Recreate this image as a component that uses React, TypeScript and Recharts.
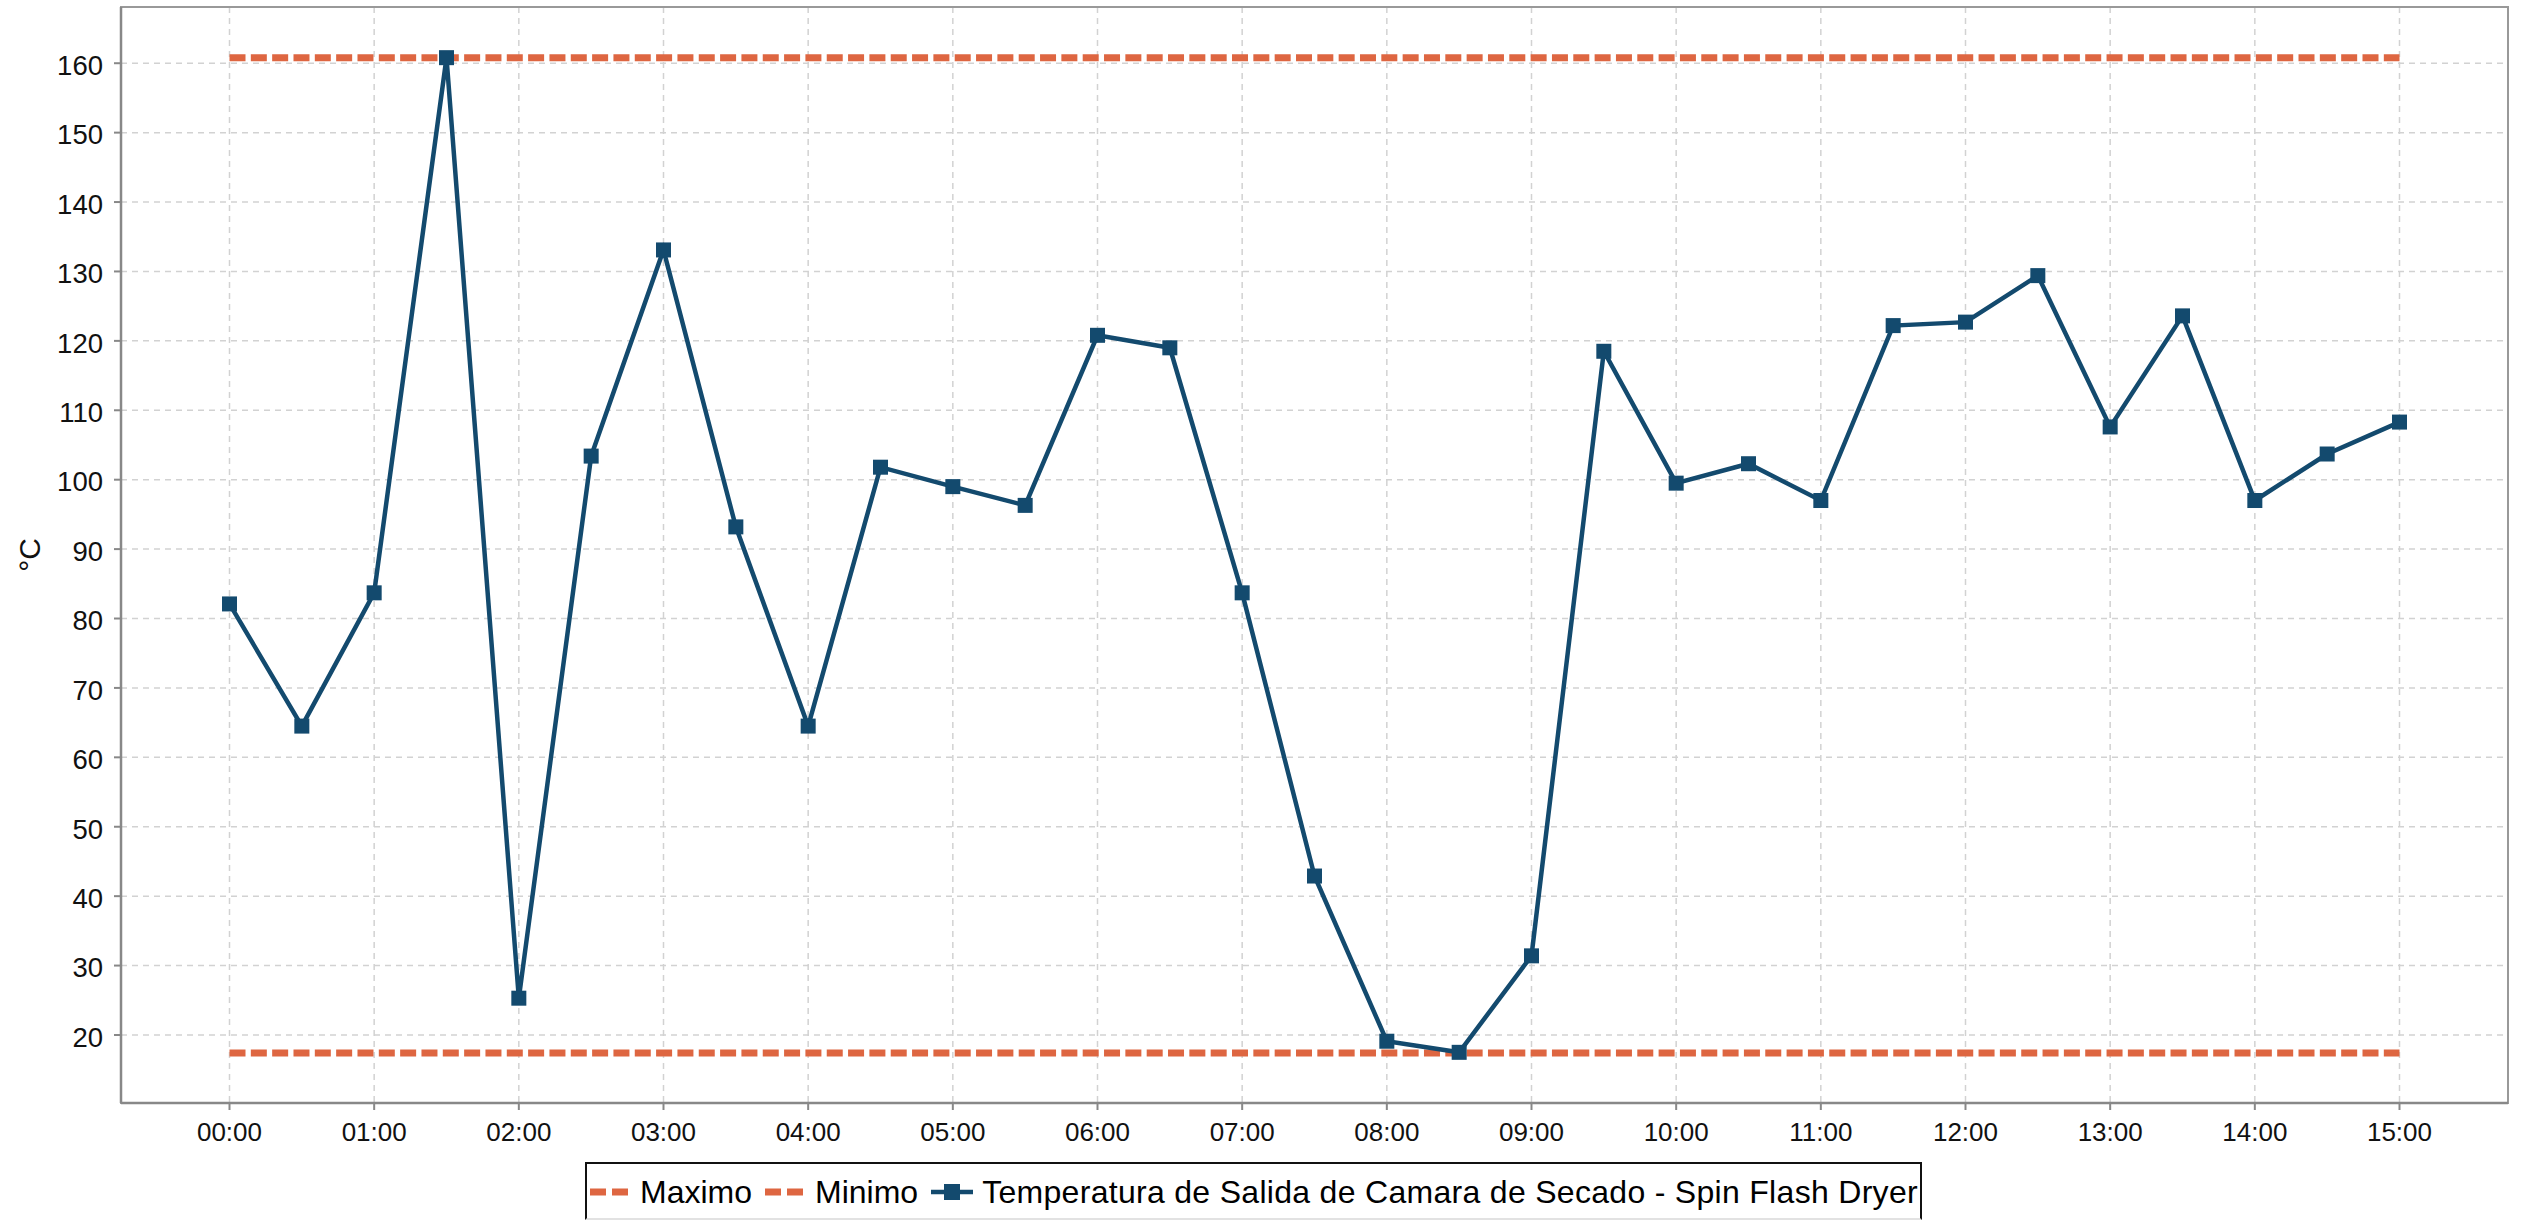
import React from 'react';
import { LineChart, Line, XAxis, YAxis, CartesianGrid, Legend, ReferenceArea } from 'recharts';

// lecturas cada 30 minutos
const horas = [
  '00:00', '00:30', '01:00', '01:30', '02:00', '02:30', '03:00', '03:30',
  '04:00', '04:30', '05:00', '05:30', '06:00', '06:30', '07:00', '07:30',
  '08:00', '08:30', '09:00', '09:30', '10:00', '10:30', '11:00', '11:30',
  '12:00', '12:30', '13:00', '13:30', '14:00', '14:30', '15:00',
];
const temperatura = [
  82.1, 64.5, 83.7, 160.8, 25.3, 103.4, 133.1, 93.2,
  64.5, 101.8, 99.0, 96.3, 120.8, 119.0, 83.7, 42.9,
  19.1, 17.5, 31.4, 118.5, 99.5, 102.3, 97.0, 122.2,
  122.7, 129.4, 107.6, 123.6, 97.0, 103.7, 108.3,
];
const MAXIMO = 160.8;
const MINIMO = 17.4;

const etiquetasX = [
  '00:00', '01:00', '02:00', '03:00', '04:00', '05:00', '06:00', '07:00',
  '08:00', '09:00', '10:00', '11:00', '12:00', '13:00', '14:00', '15:00',
];
const ticksY = [20, 30, 40, 50, 60, 70, 80, 90, 100, 110, 120, 130, 140, 150, 160];

const AZUL = '#134a6e';
const NARANJA = '#de6641';

const aHoras = (s: string) => {
  const [h, m] = s.split(':').map(Number);
  return h + m / 60;
};

const data = horas.map((h, i) => ({
  t: aHoras(h),
  max: MAXIMO,
  min: MINIMO,
  temp: temperatura[i],
}));

const ticksX = etiquetasX.map(aHoras);
const X_DOMAIN: [number, number] = [-0.75, 15.75];
const Y_DOMAIN: [number, number] = [10.2, 168.1];

const SquareDot = (props: any) => {
  const { cx, cy, index } = props;
  if (cx == null || cy == null) return <g key={`d-${index}`} />;
  return <rect key={`d-${index}`} x={cx - 7.5} y={cy - 7.5} width={15} height={15} fill={AZUL} />;
};

const LegendContent = (props: any) => {
  const payload = props.payload || [];
  return (
    <div
      style={{
        borderTop: '2px solid #111',
        borderLeft: '2px solid #111',
        borderRight: '2px solid #111',
        borderBottom: '2px solid #e2e2e2',
        background: '#fff',
        height: 58,
        boxSizing: 'border-box',
        display: 'flex',
        alignItems: 'flex-start',
        paddingTop: 10,
        paddingLeft: 3,
        fontSize: 32,
        lineHeight: '36px',
        color: '#000',
        whiteSpace: 'nowrap',
      }}
    >
      {payload.map((entry: any) => {
        const serie = entry.dataKey === 'temp';
        const w = serie ? 42 : 38;
        return (
          <div key={entry.value} style={{ display: 'flex', alignItems: 'flex-start', marginRight: 13 }}>
            <svg width={w} height={36} style={{ display: 'block' }}>
              {serie ? (
                <g>
                  <line x1={0} y1={18} x2={w} y2={18} stroke={AZUL} strokeWidth={4.5} />
                  <rect x={w / 2 - 8} y={10} width={16} height={16} fill={AZUL} />
                </g>
              ) : (
                <line x1={0} y1={18} x2={w} y2={18} stroke={NARANJA} strokeWidth={7} strokeDasharray="16 6" />
              )}
            </svg>
            <span style={{ marginLeft: serie ? 9 : 12, letterSpacing: serie ? 0.3 : 0 }}>{entry.value}</span>
          </div>
        );
      })}
    </div>
  );
};

export default function App() {
  return (
    <div
      style={{
        position: 'fixed',
        left: 0,
        top: 0,
        width: 2524,
        height: 1220,
        background: '#fff',
        fontFamily: '"Liberation Sans", Arial, sans-serif',
      }}
    >
      <LineChart width={2524} height={1220} data={data} margin={{ top: 7, right: 16, bottom: 0, left: 0 }}>
        <CartesianGrid stroke="#d2d2d2" strokeWidth={1.5} strokeDasharray="6 5" />
        <XAxis
          dataKey="t"
          type="number"
          domain={X_DOMAIN}
          ticks={ticksX}
          tickFormatter={(v: number) => etiquetasX[ticksX.indexOf(v)] ?? ''}
          height={117}
          tickSize={7}
          tickMargin={13}
          stroke="#888"
          axisLine={{ stroke: '#888', strokeWidth: 2.5 }}
          tickLine={{ stroke: '#888', strokeWidth: 2 }}
          tick={{ fill: '#111', fontSize: 26 }}
          allowDataOverflow
        />
        <YAxis
          type="number"
          domain={Y_DOMAIN}
          ticks={ticksY}
          width={121}
          tickSize={7}
          tickMargin={11}
          axisLine={{ stroke: '#888', strokeWidth: 2.5 }}
          tickLine={{ stroke: '#888', strokeWidth: 2 }}
          tick={{ fill: '#111', fontSize: 27.5, dy: 2 }}
          allowDataOverflow
          label={{
            content: () => (
              <text x={29} y={555} transform="rotate(-90 29 555)" textAnchor="middle" dominantBaseline="central" fontSize={30} fill="#111">
                °C
              </text>
            ),
          }}
        />
        <ReferenceArea
          x1={X_DOMAIN[0]}
          x2={X_DOMAIN[1]}
          y1={Y_DOMAIN[0]}
          y2={Y_DOMAIN[1]}
          fill="none"
          stroke="#999"
          strokeWidth={2}
          ifOverflow="visible"
        />
        <Legend
          layout="horizontal"
          verticalAlign="middle"
          align="center"
          content={LegendContent}
          wrapperStyle={{ top: 1162, left: 585, width: 1337 }}
        />
        <Line
          dataKey="max"
          name="Maximo"
          stroke={NARANJA}
          strokeWidth={7}
          strokeDasharray="16 5.33"
          dot={false}
          activeDot={false}
          isAnimationActive={false}
        />
        <Line
          dataKey="min"
          name="Minimo"
          stroke={NARANJA}
          strokeWidth={7}
          strokeDasharray="16 5.33"
          dot={false}
          activeDot={false}
          isAnimationActive={false}
        />
        <Line
          dataKey="temp"
          name="Temperatura de Salida de Camara de Secado - Spin Flash Dryer"
          stroke={AZUL}
          strokeWidth={4.5}
          dot={SquareDot}
          activeDot={false}
          isAnimationActive={false}
        />
      </LineChart>
    </div>
  );
}
